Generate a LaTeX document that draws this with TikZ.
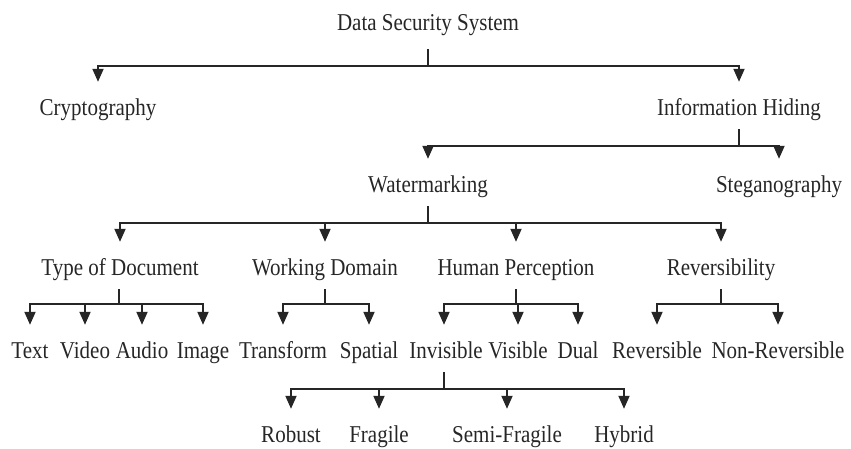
\documentclass[tikz,border=0pt]{standalone}
\usepackage{fontspec}
\setmainfont{Liberation Serif}
\usetikzlibrary{arrows.meta}
\newcommand\tl[1]{\scalebox{1}[1.15]{#1}}
\begin{document}
\begin{tikzpicture}[x=1pt,y=1pt,
  lbl/.style={anchor=base,inner sep=0pt,text height=12pt,text depth=4pt,
    font=\fontsize{21}{24}\selectfont,text=black!85},
  conn/.style={line width=1.9pt,draw=black!85,
    -{Triangle[length=13pt,width=11pt]},
    shorten <=10pt,shorten >=21pt},
]
\useasboundingbox (0,0) rectangle (851,-448);
% level 0
\node[lbl] (dss) at (428,-30) {\tl{Data Security System}};
% level 1
\node[lbl] (cry) at (98,-115) {\tl{Cryptography}};
\node[lbl] (ih) at (739,-115) {\tl{Information Hiding}};
% level 2
\node[lbl] (wm) at (428,-192) {\tl{Watermarking}};
\node[lbl] (st) at (779,-192) {\tl{Steganography}};
% level 3
\node[lbl] (tod) at (120,-275) {\tl{Type of Document}};
\node[lbl] (wd) at (325,-275) {\tl{Working Domain}};
\node[lbl] (hp) at (516,-275) {\tl{Human Perception}};
\node[lbl] (rev) at (721,-275) {\tl{Reversibility}};
% level 4
\node[lbl] (txt) at (30,-358) {\tl{Text}};
\node[lbl] (vid) at (85,-358) {\tl{Video}};
\node[lbl] (aud) at (142,-358) {\tl{Audio}};
\node[lbl] (img) at (203,-358) {\tl{Image}};
\node[lbl] (tra) at (283,-358) {\tl{Transform}};
\node[lbl] (spa) at (369,-358) {\tl{Spatial}};
\node[lbl] (inv) at (446,-358) {\tl{Invisible}};
\node[lbl] (vis) at (518,-358) {\tl{Visible}};
\node[lbl] (dua) at (578,-358) {\tl{Dual}};
\node[lbl] (rvs) at (657,-358) {\tl{Reversible}};
\node[lbl] (nrv) at (778,-358) {\tl{Non-Reversible}};
% level 5
\node[lbl] (rob) at (291,-442) {\tl{Robust}};
\node[lbl] (fra) at (379,-442) {\tl{Fragile}};
\node[lbl] (sfr) at (507,-442) {\tl{Semi-Fragile}};
\node[lbl] (hyb) at (624,-442) {\tl{Hybrid}};
% connectors
\foreach \c in {cry,ih}
  \draw[conn,shorten <=15pt] (dss.south) -- ++(0,-32) -| (\c.north);
\foreach \c in {wm,st}
  \draw[conn] (ih.south) -- ++(0,-27) -| (\c.north);
\foreach \c in {tod,wd,hp,rev}
  \draw[conn] (wm.south) -- ++(0,-27) -| (\c.north);
\foreach \c in {txt,vid,aud,img}
  \draw[conn] ([xshift=-1pt]tod.south) -- ++(0,-25) -| (\c.north);
\foreach \c in {tra,spa}
  \draw[conn] (wd.south) -- ++(0,-25) -| (\c.north);
\foreach \c in {vis,dua}
  \draw[conn] (hp.south) -- ++(0,-25) -| (\c.north);
\draw[conn] (hp.south) -- ++(0,-25) -| ([xshift=-2pt]inv.north);
\foreach \c in {rvs,nrv}
  \draw[conn] (rev.south) -- ++(0,-25) -| (\c.north);
\foreach \c in {rob,fra,sfr,hyb}
  \draw[conn] ([xshift=-2pt]inv.south) -- ++(0,-27) -| (\c.north);
\end{tikzpicture}
\end{document}
